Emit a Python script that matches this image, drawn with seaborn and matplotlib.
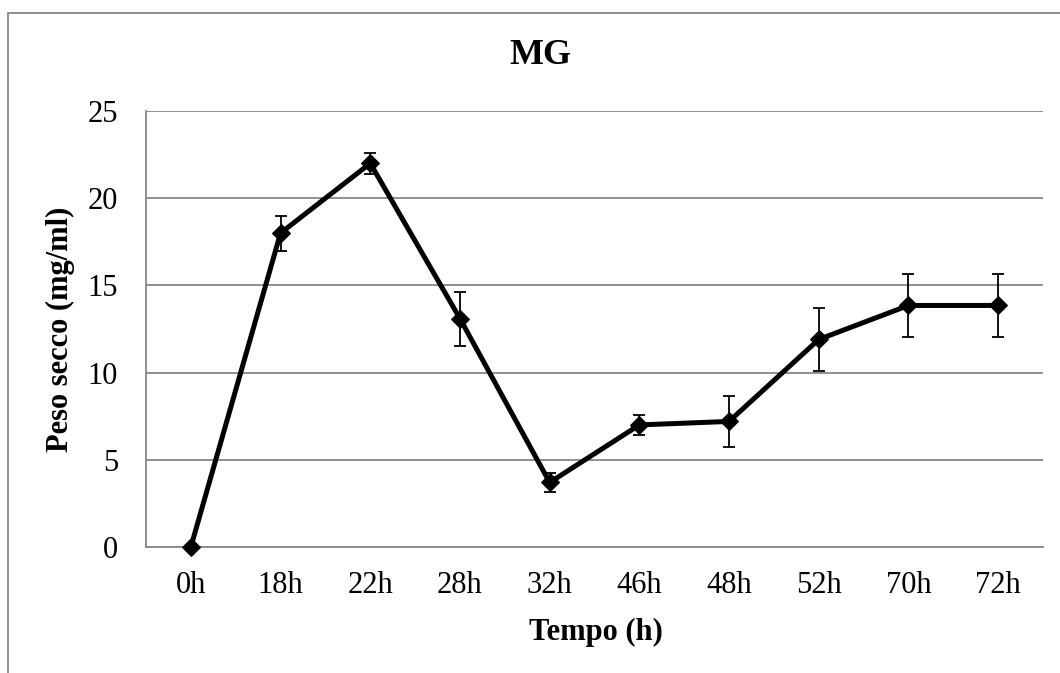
import matplotlib
matplotlib.use("Agg")
import matplotlib.pyplot as plt
import seaborn as sns
import pandas as pd
from matplotlib.patches import Rectangle

categories = ["0h", "18h", "22h", "28h", "32h", "46h", "48h", "52h", "70h", "72h"]
values = [0.0, 18.0, 22.0, 13.1, 3.7, 7.0, 7.2, 11.9, 13.85, 13.85]
errors = [0.0, 1.0, 0.6, 1.55, 0.57, 0.55, 1.45, 1.8, 1.8, 1.8]
yticks = [0, 5, 10, 15, 20, 25]

sns.set_theme(style="white")
plt.rcParams['font.family'] = ['Liberation Serif', 'DejaVu Serif']
plt.rcParams['text.color'] = 'black'

df = pd.DataFrame({"Tempo": categories, "Peso": values, "err": errors})

fig = plt.figure(figsize=(10.6, 6.73), dpi=100)
ax = fig.add_axes([146/1060, 1-547/673, (1043-146)/1060, (547-111)/673])

grid_c = "#878787"
ax.errorbar(df["Tempo"], df["Peso"], yerr=df["err"], fmt="none",
            ecolor="black", elinewidth=1.3, capsize=4.3, capthick=1.3, zorder=3)
sns.lineplot(data=df, x="Tempo", y="Peso", ax=ax, color="black", linewidth=3.6,
             marker="D", markersize=9, markeredgecolor="black",
             markerfacecolor="black", sort=False, zorder=4, clip_on=False)

ax.set_xlim(-0.5, len(categories) - 0.5)
ax.set_ylim(0, 25)
ax.set_yticks(yticks)
ax.set_yticklabels([str(t) for t in yticks])
ax.yaxis.grid(True, color=grid_c, linewidth=1.3)
ax.xaxis.grid(False)
ax.set_axisbelow(True)
for s in ["top", "right"]:
    ax.spines[s].set_visible(False)
for s in ["left", "bottom"]:
    ax.spines[s].set_color(grid_c)
    ax.spines[s].set_linewidth(1.3)
ax.tick_params(axis="both", length=0, labelsize=22, colors="black")
ax.tick_params(axis="y", pad=20)
ax.tick_params(axis="x", pad=17)
ax.set_xlabel("")
ax.set_ylabel("")

fig.text(540/1060, 1-56/673, "MG", ha="center", va="center",
         fontsize=26, fontweight="bold", color="black")
fig.text(596/1060, 1-632/673, "Tempo (h)", ha="center", va="center",
         fontsize=22, fontweight="bold", color="black")
fig.text(60/1060, 1-329/673, "Peso secco (mg/ml)", ha="center", va="center",
         fontsize=22, fontweight="bold", rotation=90, color="black")

fig.patches.append(Rectangle((8/1060, -0.1), 1.2, 1 - 13/673 + 0.1,
                             transform=fig.transFigure, fill=False,
                             edgecolor=grid_c, linewidth=1.3))

fig.savefig("out.png", dpi=100, facecolor="white")
